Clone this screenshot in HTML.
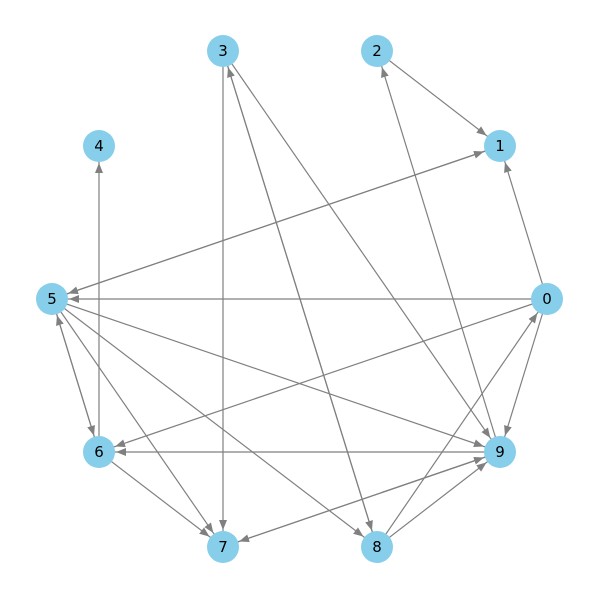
<!DOCTYPE html>
<html><head><style>
html,body{margin:0;padding:0;background:#fff;}
svg{display:block;}
text{font-family:"DejaVu Sans","Liberation Sans",sans-serif;font-size:15px;fill:#000;}
</style></head><body>
<svg width="600" height="600" viewBox="0 0 600 600" xmlns="http://www.w3.org/2000/svg">
<defs>
<marker id="a" markerUnits="userSpaceOnUse" viewBox="0 0 10 8" markerWidth="10" markerHeight="8" refX="27" refY="4" orient="auto">
<path d="M0,0 L10,4 L0,8 Z" fill="#808080"/>
</marker>
</defs>
<g stroke="#808080" stroke-width="1.2" marker-end="url(#a)">
<line x1="377" y1="51" x2="500" y2="146"/>
<line x1="547" y1="299" x2="500" y2="146"/>
<line x1="547" y1="299" x2="52" y2="299"/>
<line x1="547" y1="299" x2="99" y2="452"/>
<line x1="547" y1="299" x2="500" y2="452"/>
<line x1="500" y1="146" x2="52" y2="299"/>
<line x1="52" y1="299" x2="500" y2="146"/>
<line x1="223" y1="51" x2="223" y2="547"/>
<line x1="223" y1="51" x2="377" y2="547"/>
<line x1="377" y1="547" x2="223" y2="51"/>
<line x1="223" y1="51" x2="500" y2="452"/>
<line x1="500" y1="452" x2="377" y2="51"/>
<line x1="99" y1="452" x2="99" y2="146"/>
<line x1="52" y1="299" x2="99" y2="452"/>
<line x1="99" y1="452" x2="52" y2="299"/>
<line x1="52" y1="299" x2="500" y2="452"/>
<line x1="52" y1="299" x2="223" y2="547"/>
<line x1="52" y1="299" x2="377" y2="547"/>
<line x1="500" y1="452" x2="99" y2="452"/>
<line x1="99" y1="452" x2="223" y2="547"/>
<line x1="500" y1="452" x2="223" y2="547"/>
<line x1="223" y1="547" x2="500" y2="452"/>
<line x1="377" y1="547" x2="500" y2="452"/>
<line x1="377" y1="547" x2="547" y2="299"/>
</g>
<g fill="#87CEEB">
<circle cx="547" cy="299" r="16"/>
<circle cx="500" cy="146" r="16"/>
<circle cx="377" cy="51" r="16"/>
<circle cx="223" cy="51" r="16"/>
<circle cx="99" cy="146" r="16"/>
<circle cx="52" cy="299" r="16"/>
<circle cx="99" cy="452" r="16"/>
<circle cx="223" cy="547" r="16"/>
<circle cx="377" cy="547" r="16"/>
<circle cx="500" cy="452" r="16"/>
</g>
<g text-anchor="middle" dominant-baseline="central">
<text x="547" y="299">0</text>
<text x="500" y="146">1</text>
<text x="377" y="51">2</text>
<text x="223" y="51">3</text>
<text x="99" y="146">4</text>
<text x="52" y="299">5</text>
<text x="99" y="452">6</text>
<text x="223" y="547">7</text>
<text x="377" y="547">8</text>
<text x="500" y="452">9</text>
</g>
</svg>
</body></html>
